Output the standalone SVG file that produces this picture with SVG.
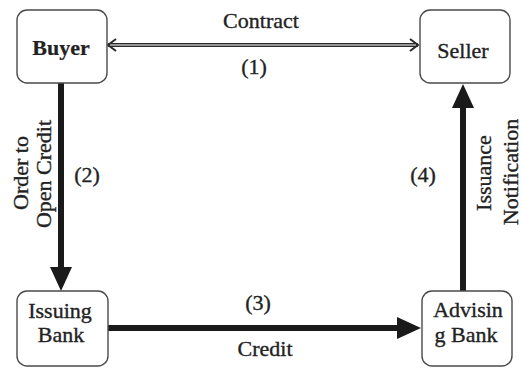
<svg xmlns="http://www.w3.org/2000/svg" width="522" height="368" viewBox="0 0 522 368">
  <style>
    .box { fill: #ffffff; stroke: #4a4a4a; stroke-width: 1.4; }
    .t { font-family: "Liberation Serif", "Times New Roman", serif; font-size: 22px; fill: #222222; stroke: #222222; stroke-width: 0.35; text-anchor: middle; }
    .b { font-weight: bold; stroke-width: 0.2; }
    .thick { stroke: #1a1a1a; stroke-width: 6; fill: none; }
  </style>
  <defs>
    <marker id="head" markerUnits="userSpaceOnUse" viewBox="0 0 24 22" markerWidth="24" markerHeight="22" refX="1" refY="11" orient="auto">
      <path d="M0,0 L24,11 L0,22 Z" fill="#1a1a1a"/>
    </marker>
    <marker id="open" markerUnits="userSpaceOnUse" viewBox="0 0 10 14" markerWidth="10" markerHeight="14" refX="9" refY="7" orient="auto-start-reverse">
      <path d="M1,1 L9,7 L1,13" fill="none" stroke="#2a2a2a" stroke-width="2"/>
    </marker>
  </defs>
  <rect width="522" height="368" fill="#ffffff"/>

  <g id="connectors">
    <g id="contract">
      <line x1="108" y1="45" x2="418" y2="45" stroke="#2a2a2a" stroke-width="4" marker-start="url(#open)" marker-end="url(#open)"/>
      <line x1="110" y1="45" x2="416" y2="45" stroke="#ffffff" stroke-width="1.2"/>
      <text class="t" x="261" y="28">Contract</text>
      <text class="t" x="254" y="74">(1)</text>
    </g>
    <g id="order">
      <line class="thick" x1="61" y1="83" x2="61" y2="268" marker-end="url(#head)"/>
      <text class="t" transform="rotate(-90 28 173)" x="28" y="173">Order to</text>
      <text class="t" transform="rotate(-90 51 174)" x="51" y="174">Open Credit</text>
      <text class="t" x="87" y="182">(2)</text>
    </g>
    <g id="credit">
      <line class="thick" x1="108" y1="328" x2="398" y2="328" marker-end="url(#head)"/>
      <text class="t" x="258" y="310">(3)</text>
      <text class="t" x="265" y="356">Credit</text>
    </g>
    <g id="issuance">
      <line class="thick" x1="463" y1="291" x2="463" y2="107" marker-end="url(#head)"/>
      <text class="t" x="423" y="182">(4)</text>
      <text class="t" transform="rotate(-90 491 173)" x="491" y="173">Issuance</text>
      <text class="t" transform="rotate(-90 518 172)" x="518" y="172">Notification</text>
    </g>
  </g>

  <g id="buyer">
    <rect class="box" x="17" y="10" width="90" height="73" rx="10"/>
    <text class="t b" x="61" y="55">Buyer</text>
  </g>
  <g id="seller">
    <rect class="box" x="420" y="10" width="90" height="73" rx="10"/>
    <text class="t" x="463" y="58">Seller</text>
  </g>
  <g id="issuing-bank">
    <rect class="box" x="17" y="291" width="91" height="75" rx="10"/>
    <text class="t" x="60" y="318">Issuing</text>
    <text class="t" x="61" y="342">Bank</text>
  </g>
  <g id="advising-bank">
    <rect class="box" x="422" y="291" width="90" height="75" rx="10"/>
    <text class="t" x="468" y="317">Advisin</text>
    <text class="t" x="466" y="342">g Bank</text>
  </g>
</svg>
